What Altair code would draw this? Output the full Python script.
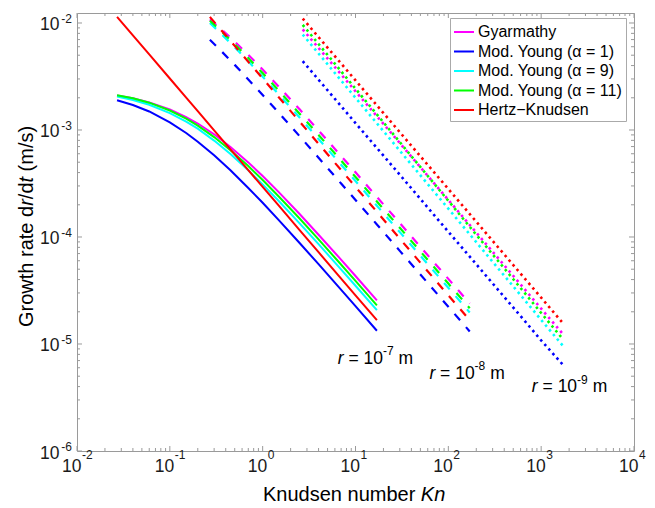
import altair as alt
import pandas as pd

FONT = "Liberation Sans"
TEXT_COLOR = "#1a1a1a"
FRAME_COLOR = "#9a9a9a"

MODELS = ["Gyarmathy", "Mod. Young (α = 1)", "Mod. Young (α = 9)", "Mod. Young (α = 11)", "Hertz−Knudsen"]
COLORS = ["#ff00ff", "#0000ff", "#00ffff", "#00ff00", "#ff0000"]

# r = 1e-7 m (solid)
KN_R7 = [0.027, 0.04, 0.06, 0.1, 0.15, 0.2, 0.3, 0.45, 0.7, 1.0, 1.5, 2.5, 4.0, 6.5, 10.0, 17.0]
GYAR_R7 = [2.10e-3, 1.98e-3, 1.81e-3, 1.56e-3, 1.32e-3, 1.15e-3, 9.11e-4, 6.95e-4, 4.98e-4, 3.72e-4, 2.61e-4, 1.64e-4, 1.05e-4, 6.58e-5, 4.32e-5, 2.56e-5]
YOUNG1_R7 = [1.90e-3, 1.71e-3, 1.49e-3, 1.18e-3, 9.38e-4, 7.78e-4, 5.80e-4, 4.20e-4, 2.87e-4, 2.09e-4, 1.43e-4, 8.79e-5, 5.57e-5, 3.46e-5, 2.26e-5, 1.33e-5]
YOUNG9_R7 = [2.05e-3, 1.91e-3, 1.72e-3, 1.44e-3, 1.20e-3, 1.03e-3, 7.96e-4, 5.96e-4, 4.20e-4, 3.10e-4, 2.16e-4, 1.34e-4, 8.57e-5, 5.35e-5, 3.50e-5, 2.07e-5]
YOUNG11_R7 = [2.11e-3, 1.98e-3, 1.80e-3, 1.52e-3, 1.28e-3, 1.10e-3, 8.59e-4, 6.48e-4, 4.60e-4, 3.41e-4, 2.38e-4, 1.49e-4, 9.50e-5, 5.93e-5, 3.89e-5, 2.30e-5]
HK_R7 = [1.14e-2, 7.66e-3, 5.08e-3, 3.03e-3, 2.01e-3, 1.50e-3, 9.94e-4, 6.59e-4, 4.22e-4, 2.94e-4, 1.95e-4, 1.16e-4, 7.21e-5, 4.41e-5, 2.85e-5, 1.67e-5]

# r = 1e-8 m (dashed)
KN_R8 = [0.27, 0.35, 0.5, 0.7, 1.0, 1.5, 2.5, 4.0, 7.0, 10.0, 17.0, 30.0, 50.0, 100.0, 170.0]
GYAR_R8 = [1.08e-2, 8.90e-3, 6.70e-3, 5.04e-3, 3.67e-3, 2.53e-3, 1.56e-3, 9.89e-4, 5.71e-4, 4.02e-4, 2.37e-4, 1.35e-4, 8.10e-5, 4.06e-5, 2.39e-5]
YOUNG1_R8 = [6.97e-3, 5.58e-3, 4.06e-3, 2.97e-3, 2.12e-3, 1.44e-3, 8.75e-4, 5.51e-4, 3.16e-4, 2.22e-4, 1.31e-4, 7.42e-5, 4.46e-5, 2.23e-5, 1.31e-5]
YOUNG9_R8 = [1.00e-2, 8.07e-3, 5.93e-3, 4.38e-3, 3.15e-3, 2.14e-3, 1.31e-3, 8.24e-4, 4.74e-4, 3.33e-4, 1.96e-4, 1.11e-4, 6.69e-5, 3.35e-5, 1.97e-5]
YOUNG11_R8 = [1.05e-2, 8.53e-3, 6.33e-3, 4.71e-3, 3.40e-3, 2.32e-3, 1.42e-3, 9.00e-4, 5.18e-4, 3.64e-4, 2.15e-4, 1.22e-4, 7.33e-5, 3.67e-5, 2.16e-5]
HK_R8 = [1.14e-2, 8.77e-3, 6.11e-3, 4.34e-3, 3.03e-3, 2.01e-3, 1.20e-3, 7.43e-4, 4.22e-4, 2.94e-4, 1.72e-4, 9.65e-5, 5.75e-5, 2.85e-5, 1.67e-5]

# r = 1e-9 m (dotted)
KN_R9 = [2.7, 4.0, 7.0, 10.0, 20.0, 40.0, 70.0, 100.0, 200.0, 400.0, 700.0, 1000.0, 1700.0]
GYAR_R9 = [8.70e-3, 5.84e-3, 3.31e-3, 2.30e-3, 1.14e-3, 5.63e-4, 3.19e-4, 2.22e-4, 1.10e-4, 5.44e-5, 3.08e-5, 2.14e-5, 1.25e-5]
YOUNG1_R9 = [4.40e-3, 2.95e-3, 1.67e-3, 1.16e-3, 5.76e-4, 2.85e-4, 1.61e-4, 1.12e-4, 5.56e-5, 2.75e-5, 1.56e-5, 1.08e-5, 6.45e-6]
YOUNG9_R9 = [7.80e-3, 5.19e-3, 2.90e-3, 2.00e-3, 9.76e-4, 4.75e-4, 2.66e-4, 1.84e-4, 8.94e-5, 4.35e-5, 2.44e-5, 1.68e-5, 9.70e-6]
YOUNG11_R9 = [9.60e-3, 6.36e-3, 3.54e-3, 2.43e-3, 1.18e-3, 5.69e-4, 3.17e-4, 2.18e-4, 1.05e-4, 5.10e-5, 2.84e-5, 1.95e-5, 1.12e-5]
HK_R9 = [1.10e-2, 7.38e-3, 4.18e-3, 2.91e-3, 1.44e-3, 7.12e-4, 4.04e-4, 2.81e-4, 1.39e-4, 6.87e-5, 3.89e-5, 2.71e-5, 1.58e-5]

# annotations "r = 10^n m"
LABEL_KN = [6.45, 62.5, 794.0]
LABEL_RATE = [6.56e-6, 4.75e-6, 3.56e-6]
LABEL_EXP = ["-7", "-8", "-9"]

# axis tick labels
X_EXPS = [-2, -1, 0, 1, 2, 3, 4]
Y_EXPS = [-6, -5, -4, -3, -2]

W, H = 557, 438
xscale = alt.Scale(type="log", domain=[0.01, 10000], nice=False)
yscale = alt.Scale(type="log", domain=[1e-6, 0.0124], nice=False)
cscale = alt.Scale(domain=MODELS, range=COLORS)

legend = alt.Legend(
    orient="none", legendX=373, legendY=5, title=None,
    symbolType="stroke", symbolSize=400, symbolStrokeWidth=2, symbolDash=[1, 0],
    labelFont=FONT, labelFontSize=16, labelColor="black", labelLimit=400,
    labelOffset=3, padding=3, rowPadding=0.5,
    strokeColor="#aaaaaa", fillColor="white",
)

series = {
    "r7": (KN_R7, [GYAR_R7, YOUNG1_R7, YOUNG9_R7, YOUNG11_R7, HK_R7]),
    "r8": (KN_R8, [GYAR_R8, YOUNG1_R8, YOUNG9_R8, YOUNG11_R8, HK_R8]),
    "r9": (KN_R9, [GYAR_R9, YOUNG1_R9, YOUNG9_R9, YOUNG11_R9, HK_R9]),
}
styles = {
    "r7": dict(strokeWidth=2),
    "r8": dict(strokeWidth=2.2, strokeDash=[8.5, 9]),
    "r9": dict(strokeWidth=2.6, strokeDash=[2.5, 3.6]),
}

layers = []
for key in ["r7", "r8", "r9"]:
    kn, ys = series[key]
    for model, y in zip(MODELS, ys):
        df = pd.DataFrame({"Kn": kn, "rate": y, "model": model})
        layers.append(
            alt.Chart(df).mark_line(strokeCap="butt", **styles[key]).encode(
                x=alt.X("Kn:Q", scale=xscale, axis=None),
                y=alt.Y("rate:Q", scale=yscale, axis=None),
                color=alt.Color("model:N", scale=cscale, legend=legend),
            )
        )

# ticks (inward, on all four sides)
XMAJ = [10.0 ** e for e in X_EXPS]
XMIN = [k * 10.0 ** e for e in range(-2, 4) for k in range(2, 10)]
YMAJ = [10.0 ** e for e in Y_EXPS]
YMIN = [k * 10.0 ** e for e in range(-6, -2) for k in range(2, 10)]

def xticks(vals, length):
    d = pd.DataFrame({"v": vals})
    base = alt.Chart(d).mark_rule(color=FRAME_COLOR, strokeWidth=1)
    bot = base.encode(x=alt.X("v:Q", scale=xscale, axis=None), y=alt.value(H), y2=alt.value(H - length))
    top = base.encode(x=alt.X("v:Q", scale=xscale, axis=None), y=alt.value(0), y2=alt.value(length))
    return [bot, top]

def yticks(vals, length):
    d = pd.DataFrame({"v": vals})
    base = alt.Chart(d).mark_rule(color=FRAME_COLOR, strokeWidth=1)
    left = base.encode(y=alt.Y("v:Q", scale=yscale, axis=None), x=alt.value(0), x2=alt.value(length))
    right = base.encode(y=alt.Y("v:Q", scale=yscale, axis=None), x=alt.value(W), x2=alt.value(W - length))
    return [left, right]

tick_layers = xticks(XMAJ, 5) + xticks(XMIN, 3) + yticks(YMAJ, 5) + yticks(YMIN, 3)

# tick labels
xl = pd.DataFrame({"v": XMAJ, "base": ["10"] * len(XMAJ), "exp": [str(e) for e in X_EXPS]})
x_base = alt.Chart(xl).mark_text(align="right", baseline="alphabetic", font=FONT, fontSize=17.5,
                                 color=TEXT_COLOR, dx=4.5).encode(
    x=alt.X("v:Q", scale=xscale, axis=None), y=alt.value(H + 20.7), text="base:N")
x_exp = alt.Chart(xl).mark_text(align="left", baseline="alphabetic", font=FONT, fontSize=12,
                                color=TEXT_COLOR, dx=5).encode(
    x=alt.X("v:Q", scale=xscale, axis=None), y=alt.value(H + 7.5), text="exp:N")

yl = pd.DataFrame({"v": YMAJ, "base": ["10"] * len(YMAJ), "exp": [str(e) for e in Y_EXPS]})
y_base = alt.Chart(yl).mark_text(align="right", baseline="alphabetic", font=FONT, fontSize=17.5,
                                 color=TEXT_COLOR, dy=7.5).encode(
    y=alt.Y("v:Q", scale=yscale, axis=None), x=alt.value(-17.5), text="base:N")
y_exp = alt.Chart(yl).mark_text(align="right", baseline="alphabetic", font=FONT, fontSize=12,
                                color=TEXT_COLOR, dy=0).encode(
    y=alt.Y("v:Q", scale=yscale, axis=None), x=alt.value(-5), text="exp:N")

# annotations (text pieces placed side by side; spaces become offsets)
AS = 17.5
SP = 0.278 * AS
ann = pd.DataFrame({"Kn": LABEL_KN, "rate": LABEL_RATE, "exp": LABEL_EXP,
                    "r": ["r"] * 3, "eq": ["= 10"] * 3, "m": ["m"] * 3})
def ann_text(field, dx, dy, size, style="normal"):
    return alt.Chart(ann).mark_text(align="left", baseline="alphabetic", font=FONT, fontSize=size,
                                    fontStyle=style, color="black", dx=dx, dy=dy).encode(
        x=alt.X("Kn:Q", scale=xscale, axis=None), y=alt.Y("rate:Q", scale=yscale, axis=None),
        text=f"{field}:N")

ann_layers = [
    ann_text("r", 0, 0, AS, "italic"),
    ann_text("eq", 0.333 * AS + SP, 0, AS),
    ann_text("exp", 0.333 * AS + SP + 1.974 * AS, -8.3, 12),
    ann_text("m", 0.333 * AS + SP + 1.974 * AS + 0.889 * 12 + SP, 0, AS),
]

# axis titles
def title_text(txt, x, y, size=20, style="normal", angle=0):
    d = pd.DataFrame({"t": [txt]})
    kw = dict(align="left", baseline="alphabetic", font=FONT, fontSize=size, fontStyle=style, color="black")
    if angle:
        kw["angle"] = angle
    return alt.Chart(d).mark_text(**kw).encode(x=alt.value(x), y=alt.value(y), text="t:N")

TS = 20
title_layers = [
    title_text("Knudsen number", 186, H + 49.5, TS),
    title_text("Kn", 186 + 7.893 * TS, H + 49.5, TS, "italic"),
]
yx = -44
y0 = 314
# (text, style, advance in em before next piece)
parts = [("Growth rate d", "normal", 6.058), ("r", "italic", 0.333), ("/d", "normal", 0.834),
         ("t", "italic", 0.278 + 0.278), ("(m/s)", "normal", 2.277)]
off = 0.0
for txt, st, w in parts:
    title_layers.append(title_text(txt, yx, y0 - off, TS, st, 270))
    off += w * TS

chart = alt.layer(*(layers + tick_layers + [x_base, x_exp, y_base, y_exp] + ann_layers + title_layers)).properties(
    width=W, height=H,
    padding={"left": 77, "top": 13, "right": 21, "bottom": 57},
    autosize=alt.AutoSizeParams(type="none"),
    background="white",
).configure_view(stroke=FRAME_COLOR, strokeWidth=1)

chart.save("out.html", embed_options={"renderer": "svg", "actions": False})
